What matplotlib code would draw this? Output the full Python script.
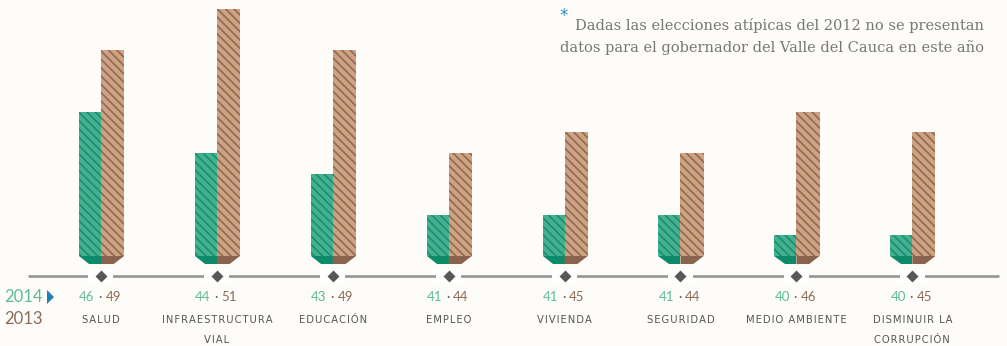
import matplotlib.pyplot as plt
from matplotlib.patches import Polygon, Rectangle
import numpy as np

# Temas y porcentajes por año
temas = ['SALUD', 'INFRAESTRUCTURA\nVIAL', 'EDUCACIÓN', 'EMPLEO', 'VIVIENDA',
         'SEGURIDAD', 'MEDIO AMBIENTE', 'DISMINUIR LA\nCORRUPCIÓN']
v2014 = [46, 44, 43, 41, 41, 41, 40, 40]
v2013 = [49, 51, 49, 44, 45, 44, 46, 45]
base = 39

nota = ['Dadas las elecciones atípicas del 2012 no se presentan',
        'datos para el gobernador del Valle del Cauca en este año']

verde, verde_osc, verde_base = '#45b190', '#1a9272', '#0c8a6a'
cafe, cafe_osc, cafe_base = '#cca383', '#976b53', '#8a634f'
fondo = '#fdfcf8'

plt.rcParams['hatch.linewidth'] = 1.3

fig = plt.figure(figsize=(10.07, 3.46), dpi=100, facecolor=fondo)
ax = fig.add_axes([0, 0, 1, 1])
ax.set_facecolor(fondo)
ax.set_xlim(-0.871, 7.817)
ax.set_ylim(34.63, 51.43)
ax.axis('off')

x = np.arange(len(temas))
w = 0.19
ax.bar(x - w / 2, np.array(v2014) - base, w, bottom=base, color=verde,
       edgecolor=verde_osc, hatch='\\\\\\\\', linewidth=0)
ax.bar(x + w / 2 + 0.005, np.array(v2013) - base, w + 0.01, bottom=base, color=cafe,
       edgecolor=cafe_osc, hatch='\\\\\\\\', linewidth=0)

# base en perspectiva bajo cada barra
h = 0.39
s = 0.09
for xi in x:
    ax.add_patch(Polygon([(xi - w, base), (xi, base), (xi, base - h), (xi - w + s, base - h)],
                         closed=True, color=verde_base, lw=0))
    ax.add_patch(Polygon([(xi, base), (xi + w + 0.01, base), (xi + w + 0.01 - s, base - h), (xi, base - h)],
                         closed=True, color=cafe_base, lw=0))

# eje con rombos
y_eje = 38.03
ax.plot([-0.63, 7.75], [y_eje, y_eje], color='#959595', lw=1.9, solid_capstyle='butt', zorder=2)
for xi in x:
    ax.add_patch(Rectangle((xi - 0.108, y_eje - 0.35), 0.216, 0.7, color='#ffffff', lw=0, zorder=3))
    ax.plot(xi, y_eje, marker='D', ms=6.5, color='#585858', mec='none', zorder=4)

tr = ax.get_xaxis_transform()
fy = lambda py: 1 - py / 346
for xi, a, b, t in zip(x, v2014, v2013, temas):
    ax.text(xi - 0.055, fy(297), str(a), color='#5dbb9c', fontsize=9.5, ha='right', va='center',
            transform=tr, family='Lato')
    ax.text(xi - 0.008, fy(297), '·', color='#666666', fontsize=9.5, ha='center', va='center',
            transform=tr, family='Lato')
    ax.text(xi + 0.04, fy(297), str(b), color='#8c6a56', fontsize=9.5, ha='left', va='center',
            transform=tr, family='Lato')
    lineas = t.split('\n')
    for k, ln in enumerate(lineas):
        ax.text(xi, fy(320 + 20 * k), '\u200a'.join(ln), color='#555555', fontsize=7.2,
                ha='center', va='center', transform=tr, family='DejaVu Sans')

# leyenda de años
fig.text(4 / 1007, fy(297), '2014', color='#5dbb9c', fontsize=12, ha='left', va='center', family='Lato')
fig.text(4 / 1007, fy(319), '2013', color='#8c6a56', fontsize=12, ha='left', va='center', family='Lato')
fig.patches.append(Polygon([(47 / 1007, fy(290)), (47 / 1007, fy(304)), (54 / 1007, fy(297))],
                           closed=True, color='#1f82b4', lw=0, transform=fig.transFigure, figure=fig))

# nota al pie
for k, ln in enumerate(nota):
    fig.text(984 / 1007, fy(30 + 22 * k), ln, color='#777777', fontsize=10.55, ha='right',
             va='baseline', family='DejaVu Serif')
fig.text(564 / 1007, fy(16), '*', color='#2a8fc0', fontsize=12, ha='center', va='center',
         family='DejaVu Sans')

fig.savefig('out.png', dpi=100, facecolor=fondo)
